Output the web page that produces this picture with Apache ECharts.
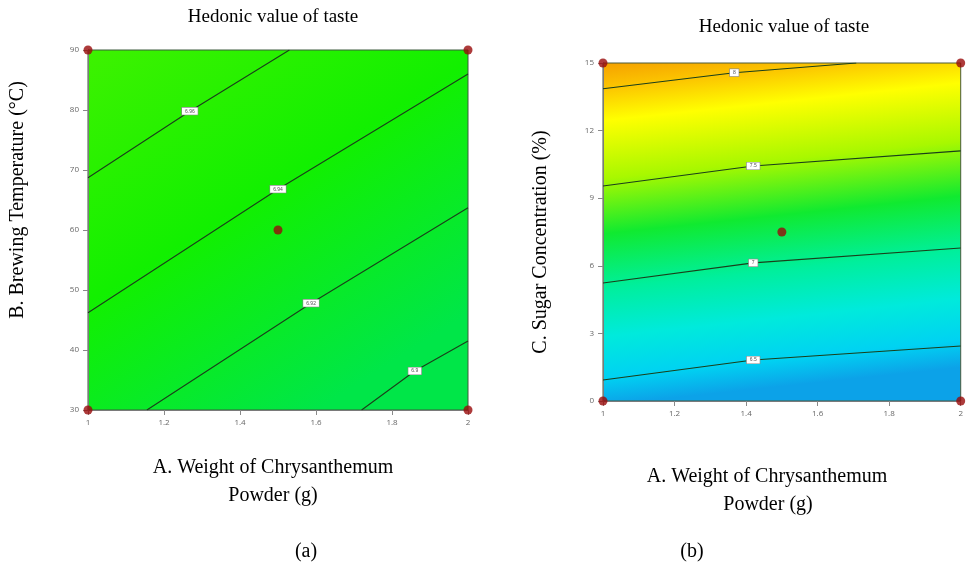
<!DOCTYPE html>
<html>
<head>
<meta charset="utf-8">
<script src="https://cdn.jsdelivr.net/npm/echarts@6/dist/echarts.min.js"></script>
<style>
  html, body { margin: 0; padding: 0; background: #fff; }
  #chart { width: 966px; height: 568px; }
</style>
</head>
<body>
<div id="chart"></div>
<script>
// x axis (both plots): weight of chrysanthemum powder
var weightTicks = [1, 1.2, 1.4, 1.6, 1.8, 2];
// (a) brewing temperature, (b) sugar concentration
var tempTicks = [30, 40, 50, 60, 70, 80, 90];
var sugarTicks = [0, 3, 6, 9, 12, 15];

// design points (corners + centre)
var pointsA = [[1, 30], [1, 90], [2, 30], [2, 90], [1.5, 60]];
var pointsB = [[1, 0], [1, 15], [2, 0], [2, 15], [1.5, 7.5]];

// contour lines: start, label position, end
var contourA = [
    [[1, 68.7], [1.268, 79.8], [1.53, 90]],
    [[1, 46.2], [1.5, 66.8], [2, 86]],
    [[1.155, 30], [1.587, 47.8], [2, 63.7]],
    [[1.72, 30], [1.86, 36.5], [2, 41.5]]
];
var contourALabels = ['6.96', '6.94', '6.92', '6.9'];

var contourB = [
    [[1, 13.86], [1.367, 14.57], [1.708, 15]],
    [[1, 9.54], [1.42, 10.43], [2, 11.1]],
    [[1, 5.24], [1.42, 6.13], [2, 6.79]],
    [[1, 0.93], [1.42, 1.82], [2, 2.44]]
];
var contourBLabels = ['8', '7.5', '7', '6.5'];

var chart = echarts.init(document.getElementById('chart'));

var serifFont = '"Liberation Serif", "Times New Roman", serif';

function makeAxis(idx, min, max, interval) {
    return {
        gridIndex: idx,
        type: 'value',
        min: min,
        max: max,
        interval: interval,
        axisLine: { show: true, lineStyle: { color: '#7a7a7a', width: 1 } },
        axisTick: { show: true, length: 5, lineStyle: { color: '#8a8a8a' } },
        axisLabel: { color: '#666', fontSize: 8, margin: 9, fontFamily: 'Open Sans' },
        splitLine: { show: false }
    };
}

function contourSeries(lines, labels, xi, yi) {
    var out = [];
    for (let i = 0; i < lines.length; i++) {
        let d = lines[i];
        out.push({
            type: 'line',
            xAxisIndex: xi,
            yAxisIndex: yi,
            data: [
                { value: d[0], symbolSize: 0 },
                {
                    value: d[1],
                    symbolSize: 1,
                    label: {
                        show: true,
                        position: 'inside',
                        formatter: labels[i],
                        fontSize: 5,
                        color: '#555',
                        backgroundColor: '#fff',
                        borderColor: '#888',
                        borderWidth: 0.6,
                        padding: [1, 3]
                    }
                },
                { value: d[2], symbolSize: 0 }
            ],
            symbol: 'circle',
            showSymbol: true,
            itemStyle: { color: '#1f4a1f', opacity: 1 },
            label: { show: false },
            silent: true,
            z: 3,
            lineStyle: { color: '#1a3f1a', width: 1.1 }
        });
    }
    return out;
}

function pointSeries(data, xi, yi) {
    return {
        type: 'scatter',
        xAxisIndex: xi,
        yAxisIndex: yi,
        data: data,
        symbolSize: 9,
        z: 5,
        itemStyle: { color: '#990a0a' }
    };
}

var series = []
    .concat(contourSeries(contourA, contourALabels, 0, 0))
    .concat(contourSeries(contourB, contourBLabels, 1, 1));
series.push(pointSeries(pointsA, 0, 0));
series.push(pointSeries(pointsB, 1, 1));

var option = {
    animation: false,
    grid: [
        {
            left: 88, top: 50, width: 380, height: 360,
            show: true,
            borderColor: '#3c5a3c',
            borderWidth: 1,
            backgroundColor: new echarts.graphic.LinearGradient(0, 0, 0.6, 1, [
                { offset: 0, color: '#3ef200' },
                { offset: 0.5, color: '#12f000' },
                { offset: 1, color: '#00e648' }
            ])
        },
        {
            left: 603, top: 63, width: 360, height: 338,
            show: true,
            borderColor: '#4a5a3a',
            borderWidth: 1,
            backgroundColor: new echarts.graphic.LinearGradient(0, 0, 0.1, 1, [
                { offset: 0, color: '#f5a000' },
                { offset: 0.08, color: '#fcc800' },
                { offset: 0.17, color: '#ffff00' },
                { offset: 0.34, color: '#a8f800' },
                { offset: 0.5, color: '#10ea30' },
                { offset: 0.66, color: '#00ef9c' },
                { offset: 0.8, color: '#00eadc' },
                { offset: 0.92, color: '#00d2f2' },
                { offset: 1, color: '#0ca2e8' }
            ])
        }
    ],
    xAxis: [
        makeAxis(0, weightTicks[0], weightTicks[weightTicks.length - 1], 0.2),
        makeAxis(1, weightTicks[0], weightTicks[weightTicks.length - 1], 0.2)
    ],
    yAxis: [
        makeAxis(0, tempTicks[0], tempTicks[tempTicks.length - 1], 10),
        makeAxis(1, sugarTicks[0], sugarTicks[sugarTicks.length - 1], 3)
    ],
    graphic: [
        // titles
        { type: 'text', style: { text: 'Hedonic value of taste', x: 273, y: 17, align: 'center', verticalAlign: 'middle', font: '19px ' + serifFont, fill: '#000' } },
        { type: 'text', style: { text: 'Hedonic value of taste', x: 784, y: 27, align: 'center', verticalAlign: 'middle', font: '19px ' + serifFont, fill: '#000' } },
        // y names
        { type: 'text', x: 18, y: 200, rotation: Math.PI / 2, style: { text: 'B. Brewing Temperature (\u00B0C)', align: 'center', verticalAlign: 'middle', font: '20px ' + serifFont, fill: '#000' } },
        { type: 'text', x: 541, y: 242, rotation: Math.PI / 2, style: { text: 'C. Sugar Concentration (%)', align: 'center', verticalAlign: 'middle', font: '20px ' + serifFont, fill: '#000' } },
        // x names
        { type: 'text', style: { text: 'A. Weight of Chrysanthemum', x: 273, y: 468, align: 'center', verticalAlign: 'middle', font: '20px ' + serifFont, fill: '#000' } },
        { type: 'text', style: { text: 'Powder (g)', x: 273, y: 496, align: 'center', verticalAlign: 'middle', font: '20px ' + serifFont, fill: '#000' } },
        { type: 'text', style: { text: 'A. Weight of Chrysanthemum', x: 767, y: 477, align: 'center', verticalAlign: 'middle', font: '20px ' + serifFont, fill: '#000' } },
        { type: 'text', style: { text: 'Powder (g)', x: 768, y: 505, align: 'center', verticalAlign: 'middle', font: '20px ' + serifFont, fill: '#000' } },
        // panel tags
        { type: 'text', style: { text: '(a)', x: 306, y: 552, align: 'center', verticalAlign: 'middle', font: '20px ' + serifFont, fill: '#000' } },
        { type: 'text', style: { text: '(b)', x: 692, y: 552, align: 'center', verticalAlign: 'middle', font: '20px ' + serifFont, fill: '#000' } }
    ],
    series: series
};
chart.setOption(option);
</script>
</body>
</html>
